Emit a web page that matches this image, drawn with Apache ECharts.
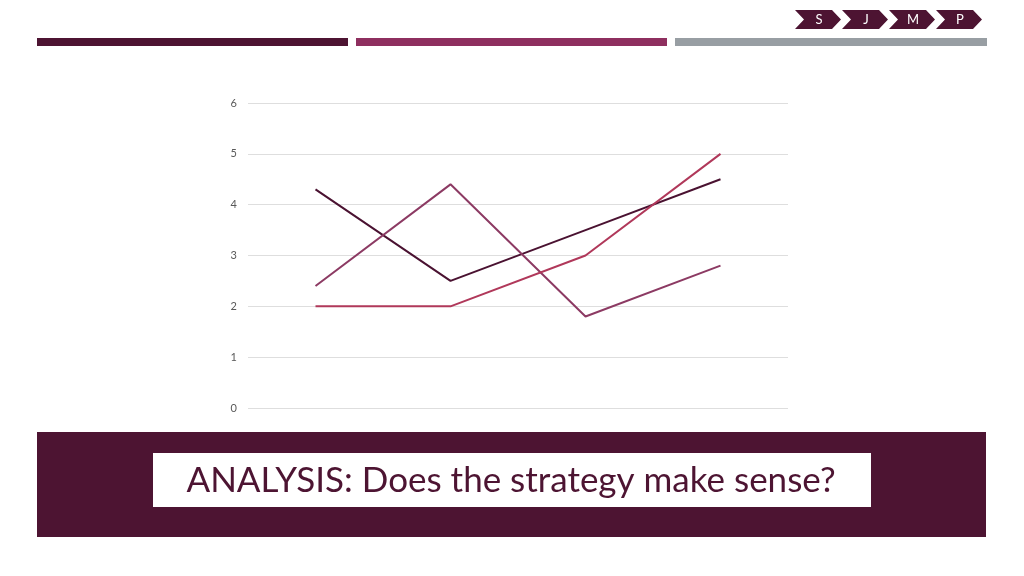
<!DOCTYPE html>
<html>
<head>
<meta charset="utf-8">
<script src="https://cdn.jsdelivr.net/npm/echarts@6/dist/echarts.min.js"></script>
<style>
  html, body { margin: 0; padding: 0; background: #ffffff; }
  #main { width: 1024px; height: 576px; }
</style>
</head>
<body>
<div id="main"></div>
<script>
// 数据
var categories = ["Category 1", "Category 2", "Category 3", "Category 4"];
var series1 = [4.3, 2.5, 3.5, 4.5];
var series2 = [2.4, 4.4, 1.8, 2.8];
var series3 = [2, 2, 3, 5];
var yTicks = [0, 1, 2, 3, 4, 5, 6];
var navLetters = ["S", "J", "M", "P"];
var title = "ANALYSIS: Does the strategy make sense?";

(function () {
  var myChart = echarts.init(document.getElementById("main"));

  var dark = "#4d1432";
  var magenta = "#8e2f5f";
  var grey = "#989ea3";

  // 顶部箭头导航
  var nav = [];
  navLetters.forEach(function (t, i) {
    var x = 795 + i * 47;
    nav.push({
      type: "polygon",
      shape: {
        points: [
          [x, 10], [x + 37, 10], [x + 46, 19.5], [x + 37, 29],
          [x, 29], [x + 9, 19.5]
        ]
      },
      style: { fill: dark }
    });
    nav.push({
      type: "text",
      x: x + 24,
      y: 19.5,
      style: {
        text: t,
        fill: "#ffffff",
        font: "13px Lato",
        align: "center",
        verticalAlign: "middle"
      }
    });
  });

  var option = {
    animation: false,
    grid: {
      left: 248,
      right: 236,
      top: 103,
      bottom: 168
    },
    xAxis: {
      type: "category",
      data: categories,
      boundaryGap: true,
      axisLine: { show: false },
      axisTick: { show: false },
      axisLabel: { show: false }
    },
    yAxis: {
      type: "value",
      min: yTicks[0],
      max: yTicks[yTicks.length - 1],
      interval: 1,
      axisLine: { show: false },
      axisTick: { show: false },
      axisLabel: {
        color: "#595959",
        fontSize: 11,
        fontFamily: "Lato",
        margin: 11
      },
      splitLine: {
        lineStyle: { color: "#dedede", width: 1 }
      }
    },
    series: [
      {
        name: "Series 1",
        type: "line",
        data: series1,
        showSymbol: false,
        lineStyle: { color: "#4a1231", width: 2 },
        itemStyle: { color: "#4a1231" }
      },
      {
        name: "Series 2",
        type: "line",
        data: series2,
        showSymbol: false,
        lineStyle: { color: "#8c3a63", width: 2 },
        itemStyle: { color: "#8c3a63" }
      },
      {
        name: "Series 3",
        type: "line",
        data: series3,
        showSymbol: false,
        lineStyle: { color: "#b0385a", width: 2 },
        itemStyle: { color: "#b0385a" }
      }
    ],
    graphic: [
      // 顶部三色条
      { type: "rect", shape: { x: 37, y: 38, width: 311, height: 8 }, style: { fill: dark } },
      { type: "rect", shape: { x: 356, y: 38, width: 311, height: 8 }, style: { fill: magenta } },
      { type: "rect", shape: { x: 675, y: 38, width: 312, height: 8 }, style: { fill: grey } },
      // 底部标题区
      { type: "rect", shape: { x: 37, y: 432, width: 949, height: 105 }, style: { fill: "#4d1432" } },
      { type: "rect", shape: { x: 153, y: 453, width: 718, height: 54 }, style: { fill: "#ffffff" } },
      {
        type: "text",
        x: 511,
        y: 481,
        style: {
          text: title,
          fill: "#4d1432",
          font: "35px Lato",
          align: "center",
          verticalAlign: "middle"
        }
      }
    ].concat(nav)
  };

  myChart.setOption(option);
  window.addEventListener("resize", function () {
    myChart.resize();
  });
})();
</script>
</body>
</html>
